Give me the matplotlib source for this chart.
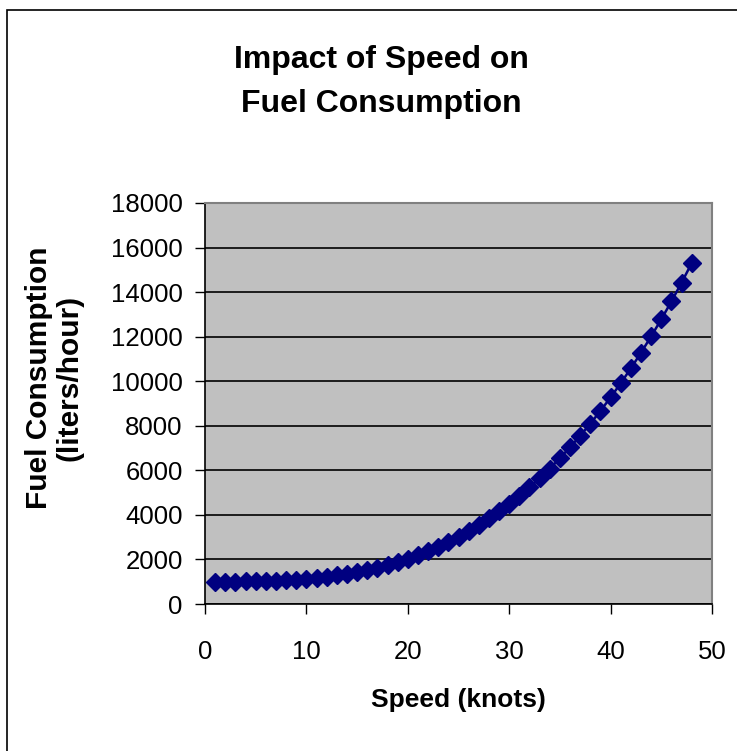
import matplotlib
matplotlib.use("Agg")
import matplotlib.pyplot as plt
from matplotlib.patches import Rectangle
from matplotlib import font_manager

speed_knots = list(range(1, 49))
fuel_lph = [1000, 1000, 1005, 1010, 1015, 1030, 1045, 1065, 1095, 1130,
            1170, 1225, 1285, 1355, 1435, 1530, 1635, 1755, 1885, 2035,
            2195, 2375, 2575, 2790, 3020, 3275, 3545, 3840, 4155, 4490,
            4850, 5235, 5645, 6080, 6545, 7035, 7550, 8095, 8670, 9275,
            9910, 10580, 11280, 12015, 12780, 13585, 14425, 15300]

title_text = "Impact of Speed on\nFuel Consumption"
x_label = "Speed (knots)"
y_label = "Fuel Consumption\n(liters/hour)"
x_ticks = [0, 10, 20, 30, 40, 50]
y_ticks = list(range(0, 18001, 2000))

names = {f.name for f in font_manager.fontManager.ttflist}
regular = ["Liberation Sans", "DejaVu Sans"] if "Liberation Sans" in names else ["DejaVu Sans"]
plt.rcParams["font.family"] = regular

W, H = 737, 751
fig = plt.figure(figsize=(W / 100, H / 100), dpi=100)
fig.patch.set_facecolor("white")

# outer chart border (extends past right/bottom edges)
fig.patches.append(Rectangle((7 / W, -0.05), 1.2, 1 - 10 / H + 0.05,
                             transform=fig.transFigure, fill=False,
                             edgecolor="black", linewidth=1.2))

ax = fig.add_axes([205 / W, (H - 604) / H, (712 - 205) / W, (604 - 203) / H])
ax.set_facecolor("#C0C0C0")
ax.set_xlim(0, 50)
ax.set_ylim(0, 18000)
ax.set_xticks(x_ticks)
ax.set_yticks(y_ticks)
ax.set_yticklabels([str(v) for v in y_ticks])
ax.yaxis.grid(True, color="black", linewidth=1.2)
ax.set_axisbelow(True)
ax.tick_params(axis="both", direction="out", length=7, width=1,
               labelsize=18.5, colors="black")
ax.tick_params(axis="x", pad=19)
ax.tick_params(axis="y", pad=9)
for s in ["left", "bottom"]:
    ax.spines[s].set_color("black")
    ax.spines[s].set_linewidth(1.2)
for s in ["top", "right"]:
    ax.spines[s].set_color("#808080")
    ax.spines[s].set_linewidth(1.5)

ax.plot(speed_knots, fuel_lph, color="#000080", linewidth=1.8, marker="D",
        markersize=9, markerfacecolor="#000080", markeredgecolor="#000080",
        clip_on=False, zorder=3)

fig.text(381 / W, 1 - 82 / H, title_text, ha="center", va="center",
         fontsize=23, fontweight="bold", linespacing=1.6)
fig.text(458 / W, 1 - 700 / H, x_label, ha="center", va="center",
         fontsize=19, fontweight="bold")
fig.text(54 / W, 1 - 378 / H, y_label, ha="center", va="center",
         rotation=90, fontsize=21.5, fontweight="bold", linespacing=1.1)

fig.savefig("out.png", dpi=100, facecolor="white")
